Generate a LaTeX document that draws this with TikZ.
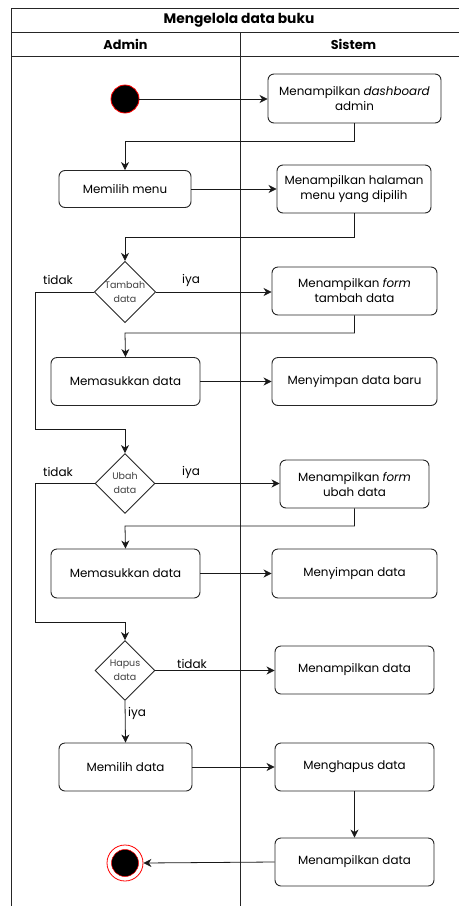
\documentclass[tikz,border=0pt]{standalone}
\usepackage{fontspec}
\setmainfont{Poppins}
\usetikzlibrary{shapes.geometric,arrows.meta}
\tikzset{
  act/.style={draw=black!85, rounded corners=6pt, line width=0.9pt, fill=white,
    align=center, inner sep=0pt, font=\fontsize{11.9}{15}\selectfont},
  dec/.style={diamond, draw=black!85, line width=0.9pt, fill=white, aspect=1,
    minimum width=60, minimum height=60, inner sep=0pt, align=center,
    font=\fontsize{9.5}{14}\selectfont\color{black!75}},
  flow/.style={draw=black!90, line width=0.8pt, -{Stealth[length=8pt,width=8pt,inset=2.5pt]}},
  lbl/.style={font=\fontsize{12}{13}\selectfont, inner sep=0pt},
  frame/.style={draw=black!85, line width=0.9pt},
}
\begin{document}
\begin{tikzpicture}[x=1pt,y=-1pt]
\useasboundingbox (0,0) rectangle (459,906);

% swimlane frame
\draw[frame] (11,906) -- (11,8) -- (459,8);
\draw[frame] (11,32) -- (459,32);
\draw[frame] (11,56) -- (459,56);
\draw[frame] (240,32) -- (240,906);
\node[font=\fontsize{13.8}{15}\selectfont\bfseries] (title) at (239,20) {Mengelola data buku};
\node[font=\fontsize{12.8}{14}\selectfont\bfseries] (lnA) at (125.5,44) {Admin};
\node[font=\fontsize{12.8}{14}\selectfont\bfseries] (lnS) at (353.5,44) {Sistem};

% start
\node[circle, fill=black, draw=red, line width=0.8pt, minimum size=28, inner sep=0pt] (start) at (125,99) {};

% activities
\node[act, minimum width=173, minimum height=49] (b1) at (354.5,98.5) {Menampilkan \textit{dashboard}\\admin};
\node[act, minimum width=132, minimum height=37] (b2) at (125,189) {Memilih menu};
\node[act, minimum width=154, minimum height=48] (b3) at (354,189) {Menampilkan halaman\\menu yang dipilih};

\node[dec] (d1) at (125,292) {Tambah\\data};
\node[act, minimum width=165, minimum height=48] (b4) at (354.5,291) {Menampilkan \textit{form}\\tambah data};
\node[act, minimum width=149, minimum height=48] (b5) at (125.5,381.5) {Memasukkan data};
\node[act, minimum width=165, minimum height=48] (b6) at (354.5,381.5) {Menyimpan data baru};

\node[dec] (d2) at (125,483.5) {Ubah\\data};
\node[act, minimum width=149, minimum height=48] (b7) at (354.5,484) {Menampilkan \textit{form}\\ubah data};
\node[act, minimum width=149, minimum height=49] (b8) at (125.5,573.5) {Memasukkan data};
\node[act, minimum width=165, minimum height=49] (b9) at (354.5,573.5) {Menyimpan data};

\node[dec] (d3) at (125,670.5) {Hapus\\data};
\node[act, minimum width=159, minimum height=48] (b10) at (354.5,670) {Menampilkan data};
\node[act, minimum width=133, minimum height=48] (b11) at (125.5,767) {Memilih data};
\node[act, minimum width=159, minimum height=48] (b12) at (354.5,767) {Menghapus data};
\node[act, minimum width=159, minimum height=48] (b13) at (354.5,862) {Menampilkan data};

% end
\node[circle, draw=red, line width=0.8pt, fill=white, minimum size=36, inner sep=0pt] (stop) at (125,863) {};
\node[circle, fill=black, draw=red, line width=0.5pt, minimum size=27, inner sep=0pt] (stopin) at (stop) {};

% elbow points
\coordinate (j1) at (125,141);
\coordinate (j2) at (125,237);
\coordinate (j3) at (125,333);
\coordinate (j4) at (125,526);
\coordinate (l1) at (35,429);
\coordinate (l2) at (35,622);

% connectors
\draw[flow] (start) -- (b1.west |- start);
\draw[flow] (b1.south) |- (j1) -- (b2.north);
\draw[flow] (b2.east) -- (b3.west |- b2.east);
\draw[flow] (b3.south) |- (j2) -- (d1.north);
\draw[flow] (d1.east) -- (b4.west |- d1.east);
\draw[flow] (d1.west) -| (l1) -- (l1 -| d2.north) -- (d2.north);
\draw[flow] (b4.south) |- (j3) -- (b5.north);
\draw[flow] (b5.east) -- (b6.west);
\draw[flow] (d2.east) -- (b7.west |- d2.east);
\draw[flow] (d2.west) -| (l2) -- (l2 -| d3.north) -- (d3.north);
\draw[flow] (b7.south) |- (j4) -- (b8.north);
\draw[flow] (b8.east) -- (b9.west);
\draw[flow] (d3.east) -- (b10.west |- d3.east);
\draw[flow] (d3.south) -- (b11.north);
\draw[flow] (b11.east) -- (b12.west);
\draw[flow] (b12.south) -- (b13.north);
\draw[flow] (b13.west) -- (stop.east);

% branch labels
\node[lbl] (t1) at (58,280) {tidak};
\node[lbl] (y1) at (191,280) {iya};
\node[lbl] (t2) at (58,472) {tidak};
\node[lbl] (y2) at (191,472) {iya};
\node[lbl] (t3) at (192,664) {tidak};
\node[lbl] (y3) at (137,713) {iya};
\end{tikzpicture}
\end{document}
